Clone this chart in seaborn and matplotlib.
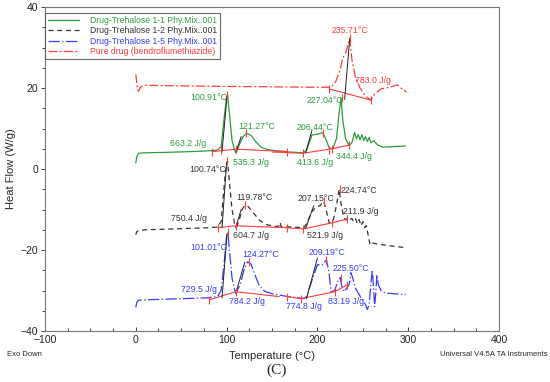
import numpy as np
import pandas as pd
import matplotlib
matplotlib.use('Agg')
import matplotlib.pyplot as plt
import seaborn as sns

# ============================================================
# DATA
# ============================================================
green_T = [0, 1, 3, 10, 30, 60, 80, 90, 94, 97, 100, 101, 103, 106, 109, 111, 114, 118, 122, 127,
           132, 138, 145, 155, 170, 184, 188, 194, 200, 206, 210, 213, 217, 221, 224, 226, 228, 231,
           235, 238, 241, 243, 245, 247, 249, 251, 253, 255, 257, 259, 262, 266, 272, 280, 290, 297]
green_hf = [1.5, 3.0, 3.9, 4.0, 4.1, 4.3, 4.5, 4.7, 5.5, 12, 17.8, 18.3, 14, 7, 4.5, 4.2, 6.0, 8.0, 8.8, 8.3,
            6.8, 5.4, 4.8, 4.5, 4.2, 4.0, 4.6, 8.4, 8.6, 9.0, 7.0, 5.2, 5.0, 7.5, 14, 17.5, 12, 7.5,
            5.8, 6.5, 9.0, 7.5, 8.5, 7.2, 8.5, 7.0, 8.0, 6.8, 7.8, 6.5, 7.0, 6.0, 5.4, 5.5, 5.6, 5.7]

black_T = [0, 1, 3, 10, 40, 80, 90, 94, 97, 99.5, 101, 103, 106, 109, 111, 114, 117, 120, 124, 130,
           137, 145, 155, 158, 159, 160, 170, 185, 188, 194, 198, 203, 207, 210, 213, 217, 221, 224,
           226, 229, 231, 234, 236, 238, 240, 242, 244, 246, 248, 250, 252, 254, 256, 258, 260, 265,
           275, 285, 297]
black_hf = [-16.2, -15.5, -15.2, -15.0, -14.8, -14.5, -14.3, -13, -5, 1.0, 2.0, -3, -10, -13.8, -14.3,
            -12.5, -10, -9.0, -9.3, -11.0, -12.8, -13.8, -14.2, -14.0, -13.2, -14.2, -14.3, -14.5,
            -13.5, -10.5, -9.5, -9.0, -8.0, -10.5, -13.3, -13.0, -9.0, -5.0, -8.5, -12.0, -12.6,
            -12.0, -12.5, -12.2, -13.0, -12.3, -13.5, -12.5, -14.0, -13.0, -14.5, -14.0, -16.5,
            -18.7, -18.2, -18.5, -18.8, -19.1, -19.4]

blue_T = [0, 1, 3, 10, 40, 80, 90, 94, 97, 100, 101.5, 103, 106, 109, 111, 115, 119, 123, 127, 131,
          136, 142, 150, 165, 185, 188, 194, 200, 205, 210, 213, 215, 219, 222, 225, 227, 229, 232,
          235, 237, 239, 242, 246, 250, 253, 255, 257, 259, 260.5, 262, 263, 264.5, 265.5, 267, 270,
          275, 285, 297]
blue_hf = [-34.2, -33.0, -32.4, -32.3, -32.1, -31.8, -31.5, -30, -24, -16.5, -15.5, -20, -27, -30.0,
           -30.3, -28.5, -25, -22.9, -23.5, -26.0, -28.8, -30.2, -30.8, -31.4, -32.0, -31.5, -27.5,
           -23.6, -23.8, -22.4, -26, -30.3, -30.0, -28, -26.8, -29, -30.3, -29.5, -28.5, -25.6, -27,
           -29.5, -31.0, -32.5, -33.5, -34.7, -33.5, -28, -24.9, -30, -34.0, -30, -26.1, -28.5,
           -30.0, -30.6, -30.8, -31.0]

red_T = [0, 2, 3, 5, 10, 30, 60, 100, 150, 200, 215, 220, 225, 228, 231, 234, 235.7, 238, 242, 247,
         253, 259, 263, 270, 280, 288, 292, 298]
red_hf = [23.4, 19.5, 19.2, 20.2, 20.7, 20.6, 20.5, 20.4, 20.3, 20.2, 20.2, 21.5, 24.5, 27.5, 28.5,
          31.0, 32.3, 27.0, 22.5, 20.0, 18.0, 17.0, 18.5, 19.8, 20.2, 20.8, 20.0, 19.0]

# integration baselines (red) for every curve
base_segments = [
    ([84, 110, 167], [4.3, 4.9, 4.3]),
    ([150, 184, 216, 235], [4.2, 3.9, 5.0, 5.9]),
    ([90, 110, 167], [-14.5, -14.0, -14.5]),
    ([167, 184, 216, 233], [-14.5, -14.8, -13.3, -12.3]),
    ([81, 110, 158], [-32.3, -30.3, -31.5]),
    ([166, 182, 219, 233], [-31.5, -32.0, -30.3, -28.6]),
    ([213, 259], [19.8, 17.0]),
]
# small red markers at limits and peaks
mark_T = [84, 94, 110, 167, 184, 213, 216, 235, 100.9, 121.3, 206.4, 227.0,
          90, 110, 167, 184, 216, 233, 100.7, 119.8, 207.2, 224.7,
          81, 110, 166, 182, 219, 233, 101.0, 124.3, 209.2, 225.5,
          213, 259, 235.7]
mark_hf = [4.3, 4.6, 4.9, 4.3, 3.9, 4.8, 5.0, 5.9, 18.3, 8.8, 9.0, 17.5,
           -14.5, -14.0, -14.5, -14.8, -13.3, -12.3, 2.0, -9.0, -8.0, -5.0,
           -32.3, -30.3, -31.5, -32.0, -30.3, -28.6, -15.5, -22.9, -22.4, -26.8,
           19.8, 17.0, 32.3]

# onset tangent lines (black)
tangents = [
    ([95, 100.5], [4.4, 18]), ([110, 116], [4.0, 8.0]), ([187, 194], [4.0, 9.5]),
    ([95, 100], [-14.5, 1.5]), ([110, 116], [-14.5, -10]), ([187, 196], [-14.7, -9.0]),
    ([95, 100.5], [-31.8, -16]), ([110, 120], [-30.8, -23]), ([188, 200], [-32.0, -22.0]),
    ([230, 235.5], [17.2, 32]),
]

labels = ["Drug-Trehalose 1-1 Phy.Mix..001", "Drug-Trehalose 1-2 Phy.Mix..001",
          "Drug-Trehalose 1-5 Phy.Mix..001", "Pure drug (bendroflumethiazide)"]

# annotations: text, T, heat flow, colour
ann_text = ["235.71°C", "783.0 J/g",
            "100.91°C", "121.27°C", "663.2 J/g", "535.3 J/g", "227.04°C", "206.44°C", "413.6 J/g", "344.4 J/g",
            "100.74°C", "119.78°C", "750.4 J/g", "604.7 J/g", "207.15°C", "224.74°C", "211.9 J/g", "521.9 J/g",
            "101.01°C", "124.27°C", "729.5 J/g", "784.2 J/g", "209.19°C", "225.50°C", "774.8 J/g", "83.19 J/g"]
ann_T = [236, 261,
         80, 133, 58, 127, 208, 197, 197, 240,
         79, 131, 59, 127, 198, 246, 248, 208,
         80, 137, 70, 122, 210, 237, 185, 232]
ann_hf = [34.2, 21.9,
          17.7, 10.6, 6.2, 1.5, 17.0, 10.3, 1.5, 3.2,
          -0.2, -7.1, -12.1, -16.3, -7.4, -5.4, -10.6, -16.5,
          -19.3, -21.2, -29.8, -32.8, -20.7, -24.6, -34.0, -32.8]

GREEN = '#2a9d3f'
BLACK = '#333333'
BLUE = '#3a3aff'
RED = '#ff3b3b'
ann_col = [RED] * 2 + [GREEN] * 8 + [BLACK] * 8 + [BLUE] * 8

# ============================================================
# PLOT
# ============================================================
sns.set_style('white')
plt.rcParams['font.family'] = ['Liberation Sans', 'DejaVu Sans']

fig = plt.figure(figsize=(5.5, 3.82), dpi=100)
ax = fig.add_axes([0.0818, 0.1335, 0.8255, 0.848])

curves = [
    (green_T, green_hf, GREEN, '-'),
    (black_T, black_hf, BLACK, (0, (4, 3))),
    (blue_T, blue_hf, BLUE, (0, (9, 2, 1, 2))),
    (red_T, red_hf, RED, (0, (7, 2, 1.5, 2))),
]
for (T, hf, col, ls), lab in zip(curves, labels):
    df = pd.DataFrame({'T': T, 'hf': hf})
    sns.lineplot(data=df, x='T', y='hf', ax=ax, color=col, linestyle=ls,
                 linewidth=0.9, label=lab, sort=False, estimator=None)

for T, hf in base_segments:
    ax.plot(T, hf, color=RED, linewidth=0.8, zorder=3)
ax.plot(mark_T, mark_hf, linestyle='none', marker='|', markersize=6,
        color=RED, markeredgewidth=0.8, zorder=4)
for T, hf in tangents:
    ax.plot(T, hf, color='#222222', linewidth=0.7, zorder=3)

for t, x, y, c in zip(ann_text, ann_T, ann_hf, ann_col):
    ax.text(x, y, t, color=c, fontsize=6.3, ha='center', va='center')

ax.set_xlim(-100, 400)
ax.set_ylim(-40, 40)
ax.set_xticks([-100, 0, 100, 200, 300, 400])
ax.set_yticks([-40, -20, 0, 20, 40])
ax.set_xticks(np.arange(-100, 401, 25), minor=True)
ax.set_yticks(np.arange(-40, 41, 5), minor=True)
ax.tick_params(axis='x', which='both', direction='in', length=3, width=0.6, labelsize=7.5, pad=3, colors='#222222')
ax.tick_params(axis='y', which='major', direction='out', length=3, width=0.6, labelsize=7.5, pad=2, colors='#222222')
ax.tick_params(axis='y', which='minor', direction='out', length=2, width=0.6)
ax.tick_params(axis='x', which='minor', length=2)
ax.tick_params(left=True, bottom=True, which='both')
for s in ax.spines.values():
    s.set_color('#777777')
    s.set_linewidth(0.8)

ax.set_xlabel('Temperature (°C)', fontsize=8, labelpad=4)
ax.set_ylabel('Heat Flow (W/g)', fontsize=8, labelpad=3)

leg = ax.legend(loc='upper left', bbox_to_anchor=(0.0, 0.983), borderaxespad=0,
                fontsize=6.2, handlelength=3.6, frameon=True, fancybox=False,
                labelspacing=0.15, borderpad=0.4, handletextpad=1.2)
leg.get_frame().set_edgecolor('#444444')
leg.get_frame().set_linewidth(0.8)
for txt, (_, _, col, _) in zip(leg.get_texts(), curves):
    txt.set_color(col)

fig.text(7 / 550, 1 - 354 / 382, 'Exo Down', fontsize=5.5, va='center', ha='left')
fig.text(548 / 550, 1 - 354 / 382, 'Universal V4.5A TA Instruments', fontsize=5.5, va='center', ha='right')
fig.text(277 / 550, 1 - 370 / 382, '(C)', fontsize=11, va='center', ha='center',
         family=['Liberation Serif', 'DejaVu Serif'])

fig.savefig('out.png', dpi=100)
